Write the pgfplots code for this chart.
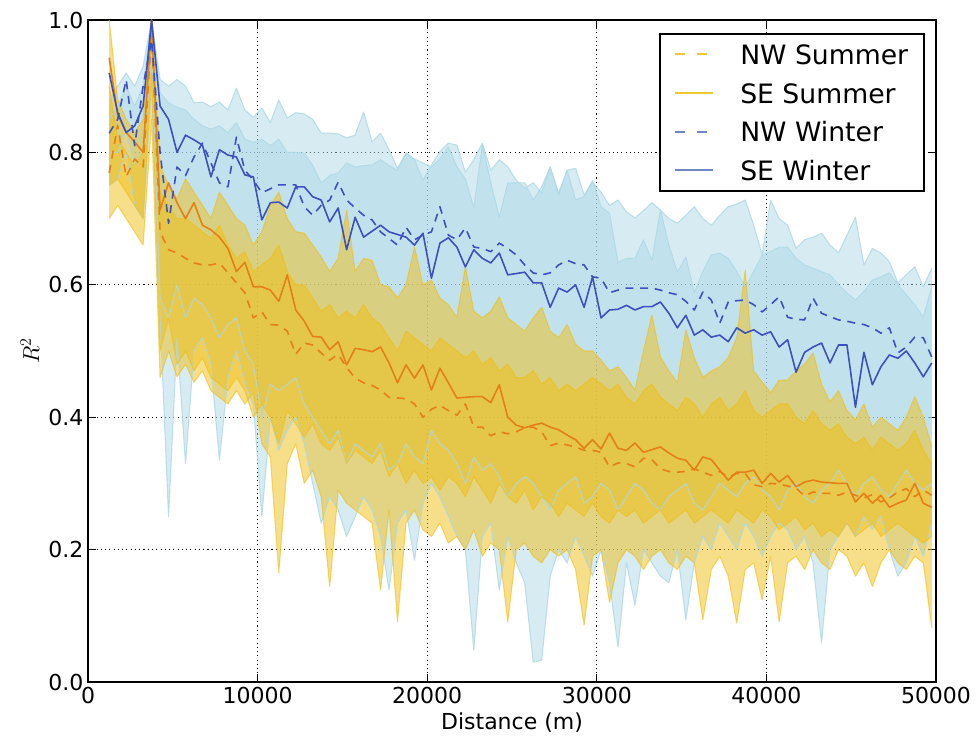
\documentclass[border=0pt]{standalone}
\usepackage{pgfplots}
\pgfplotsset{compat=1.18}
\usepackage{pgfplotstable}
\usepgfplotslibrary{fillbetween}
\usepackage{fontspec}
\setmainfont{DejaVu Sans}
\definecolor{wfill}{RGB}{173,216,230}
\definecolor{sfill}{RGB}{240,190,20}
\definecolor{wline}{RGB}{60,80,190}
\definecolor{sline}{RGB}{228,128,22}
\definecolor{wleg}{RGB}{110,135,195}
\definecolor{sleg}{RGB}{240,200,50}

\pgfplotstableread{
x nws ses nww sew wAhi wAlo wBhi wBlo sAhi sAlo sBhi sBlo
1250 .769 .943 .829 .920 .880 .750 .850 .800 1.000 .700 .900 .750
1750 .841 .857 .850 .860 .900 .760 .870 .800 .880 .720 .820 .760
2250 .763 .830 .910 .830 .920 .800 .900 .830 .850 .700 .800 .740
2750 .790 .816 .810 .840 .900 .720 .870 .780 .830 .680 .780 .720
3250 .778 .800 .900 .870 .930 .700 .900 .800 .850 .660 .800 .700
3750 .980 1.000 .970 1.000 1.000 .900 1.000 .950 1.000 .850 .980 .920
4250 .680 .713 .800 .870 .910 .550 .890 .580 .780 .460 .740 .500
4750 .653 .754 .693 .850 .900 .250 .875 .550 .750 .500 .720 .550
5250 .648 .724 .778 .800 .910 .520 .868 .600 .730 .461 .700 .480
5750 .640 .700 .765 .826 .900 .330 .864 .550 .760 .480 .700 .500
6250 .633 .724 .793 .819 .875 .500 .850 .580 .740 .453 .690 .470
6750 .630 .690 .814 .811 .876 .520 .840 .570 .720 .470 .680 .490
7250 .630 .683 .784 .763 .869 .480 .835 .550 .700 .440 .670 .460
7750 .633 .672 .754 .804 .876 .335 .840 .520 .740 .430 .690 .450
8250 .618 .655 .748 .796 .864 .460 .830 .540 .720 .420 .660 .440
8750 .603 .620 .823 .793 .897 .500 .845 .550 .700 .440 .640 .460
9250 .588 .634 .773 .766 .864 .450 .820 .500 .690 .420 .650 .440
9750 .550 .597 .758 .763 .853 .420 .815 .480 .660 .437 .620 .400
10250 .559 .597 .739 .698 .867 .250 .820 .400 .680 .360 .630 .420
10750 .540 .592 .745 .724 .845 .400 .810 .450 .720 .340 .640 .400
11250 .539 .575 .751 .725 .879 .350 .820 .440 .740 .165 .660 .360
11750 .530 .615 .751 .716 .852 .380 .800 .450 .700 .330 .620 .410
12250 .495 .562 .751 .748 .860 .400 .800 .460 .680 .360 .600 .390
12750 .512 .545 .718 .748 .858 .360 .799 .420 .678 .300 .600 .370
13250 .509 .522 .705 .733 .850 .300 .780 .400 .660 .320 .580 .390
13750 .497 .521 .720 .728 .829 .240 .754 .380 .642 .280 .560 .360
14250 .486 .502 .728 .695 .829 .280 .765 .360 .620 .144 .570 .350
14750 .495 .514 .755 .716 .828 .260 .769 .380 .640 .290 .550 .370
15250 .475 .479 .728 .653 .822 .220 .784 .330 .713 .270 .560 .330
15750 .459 .504 .716 .702 .826 .250 .778 .360 .620 .260 .550 .350
16250 .452 .502 .705 .672 .861 .280 .780 .350 .640 .250 .570 .340
16750 .448 .499 .698 .681 .816 .260 .781 .340 .637 .240 .550 .330
17250 .441 .506 .680 .690 .829 .220 .789 .360 .600 .139 .540 .350
17750 .430 .482 .670 .680 .804 .139 .780 .320 .597 .260 .520 .310
18250 .429 .452 .660 .676 .776 .240 .773 .330 .580 .091 .500 .330
18750 .428 .479 .687 .672 .799 .260 .799 .360 .600 .240 .530 .300
19250 .420 .459 .668 .660 .789 .184 .790 .340 .657 .260 .520 .320
19750 .400 .479 .675 .678 .758 .270 .784 .330 .600 .230 .510 .300
20250 .412 .441 .680 .610 .781 .300 .778 .380 .607 .220 .500 .310
20750 .418 .474 .718 .663 .801 .280 .790 .360 .580 .240 .520 .290
21250 .410 .452 .675 .671 .814 .250 .808 .350 .570 .210 .510 .310
21750 .403 .429 .668 .657 .811 .220 .778 .330 .551 .220 .500 .300
22250 .420 .430 .686 .627 .770 .200 .760 .300 .627 .200 .490 .280
22750 .385 .431 .657 .653 .789 .048 .716 .340 .560 .230 .500 .310
23250 .385 .431 .655 .640 .814 .220 .811 .320 .550 .190 .480 .290
23750 .372 .422 .650 .633 .773 .240 .754 .330 .560 .210 .490 .270
24250 .378 .449 .663 .648 .789 .139 .702 .310 .582 .200 .470 .300
24750 .375 .400 .655 .615 .778 .220 .754 .280 .550 .091 .480 .280
25250 .378 .388 .645 .617 .758 .180 .754 .300 .540 .200 .460 .270
25750 .384 .384 .630 .619 .746 .150 .754 .310 .530 .210 .460 .290
26250 .385 .388 .618 .603 .754 .030 .728 .300 .550 .190 .470 .260
26750 .378 .391 .615 .603 .739 .033 .748 .280 .566 .180 .450 .280
27250 .357 .385 .618 .566 .778 .160 .778 .260 .530 .200 .460 .270
27750 .361 .381 .630 .595 .739 .200 .736 .290 .520 .190 .440 .250
28250 .358 .373 .637 .589 .773 .180 .773 .300 .540 .200 .450 .270
28750 .355 .366 .632 .600 .776 .220 .728 .310 .510 .170 .440 .260
29250 .350 .353 .630 .566 .736 .190 .733 .270 .500 .086 .450 .250
29750 .350 .366 .612 .612 .754 .160 .758 .280 .500 .190 .460 .270
30250 .347 .352 .610 .550 .740 .200 .718 .300 .486 .200 .450 .250
30750 .325 .376 .588 .562 .720 .150 .708 .290 .470 .120 .440 .240
31250 .331 .353 .592 .563 .728 .053 .634 .260 .476 .180 .450 .260
31750 .330 .350 .595 .569 .710 .180 .640 .280 .460 .200 .430 .250
32250 .325 .361 .595 .562 .701 .116 .640 .300 .441 .190 .420 .260
32750 .338 .347 .595 .567 .712 .200 .668 .290 .500 .170 .440 .240
33250 .336 .351 .595 .567 .724 .180 .637 .270 .554 .190 .450 .250
33750 .322 .355 .592 .574 .713 .160 .713 .260 .491 .200 .430 .260
34250 .318 .346 .588 .557 .700 .150 .660 .280 .470 .180 .420 .240
34750 .317 .338 .585 .535 .693 .200 .619 .290 .452 .170 .410 .250
35250 .318 .335 .575 .554 .705 .094 .642 .300 .532 .190 .430 .260
35750 .322 .320 .562 .524 .718 .180 .588 .270 .490 .180 .420 .240
36250 .317 .340 .589 .532 .700 .220 .620 .260 .460 .094 .400 .250
36750 .312 .336 .577 .521 .690 .200 .645 .280 .470 .170 .420 .260
37250 .318 .320 .542 .524 .705 .240 .648 .300 .476 .190 .430 .250
37750 .310 .305 .574 .514 .718 .220 .640 .290 .490 .160 .410 .240
38250 .315 .317 .576 .535 .722 .200 .620 .280 .520 .089 .420 .260
38750 .315 .317 .577 .527 .728 .240 .597 .300 .622 .170 .440 .250
39250 .298 .320 .570 .532 .690 .220 .620 .310 .470 .180 .410 .240
39750 .295 .300 .559 .524 .645 .190 .645 .290 .453 .124 .400 .260
40250 .300 .315 .570 .529 .728 .220 .650 .280 .437 .190 .410 .250
40750 .299 .302 .582 .506 .700 .240 .657 .260 .456 .091 .420 .230
41250 .296 .312 .551 .517 .690 .230 .657 .290 .456 .180 .420 .240
41750 .293 .295 .548 .468 .655 .200 .640 .300 .470 .190 .400 .250
42250 .281 .302 .547 .498 .668 .220 .630 .280 .480 .170 .390 .230
42750 .287 .305 .580 .506 .672 .180 .625 .270 .497 .200 .410 .240
43250 .285 .302 .557 .512 .678 .059 .620 .290 .450 .180 .390 .220
43750 .285 .301 .552 .482 .660 .200 .615 .300 .423 .170 .380 .230
44250 .282 .300 .547 .509 .648 .220 .600 .320 .440 .200 .390 .220
44750 .287 .300 .545 .509 .675 .240 .588 .300 .410 .190 .370 .240
45250 .282 .272 .542 .415 .702 .220 .577 .280 .396 .160 .360 .220
45750 .278 .285 .540 .498 .630 .250 .590 .300 .420 .180 .370 .230
46250 .283 .270 .535 .449 .655 .230 .607 .310 .385 .144 .350 .240
46750 .272 .282 .527 .476 .648 .250 .612 .290 .400 .180 .370 .220
47250 .278 .264 .535 .494 .635 .200 .618 .280 .390 .200 .360 .230
47750 .287 .270 .497 .489 .603 .160 .600 .300 .380 .180 .350 .240
48250 .292 .275 .506 .500 .615 .180 .585 .320 .400 .170 .360 .230
48750 .280 .300 .521 .482 .627 .220 .570 .300 .431 .190 .380 .220
49250 .290 .270 .520 .461 .597 .190 .551 .290 .400 .180 .350 .210
49750 .282 .264 .491 .482 .625 .240 .597 .300 .355 .082 .330 .220
}\data

\begin{document}
\begin{tikzpicture}
\begin{axis}[
  width=636pt, height=496.5pt, scale only axis,
  xmin=0, xmax=50000, ymin=0, ymax=1,
  xtick={0,10000,20000,30000,40000,50000},
  ytick={0,0.2,0.4,0.6,0.8,1},
  scaled x ticks=false,
  xticklabel style={/pgf/number format/.cd, fixed, 1000 sep={}},
  yticklabel style={/pgf/number format/.cd, fixed, fixed zerofill, precision=1},
  /pgf/number format/assume math mode=true,
  tick label style={font=\fontsize{16.5}{19}\selectfont},
  label style={font=\fontsize{16.5}{19}\selectfont},
  xlabel={Distance (m)}, ylabel={$R^2$},
  grid=major,
  major grid style={black, line width=0.6pt, dash pattern=on 0.8pt off 2.4pt},
  axis line style={black, line width=1pt},
  tick style={black, line width=0.75pt}, major tick length=6pt,
  tick align=inside,
  legend cell align=left,
  legend image code/.code={\draw[#1, line width=1.5pt] (0pt,0pt) -- (29pt,0pt);},
  legend style={at={(rel axis cs:1,1)}, anchor=north east, xshift=-8.25pt, yshift=-9.75pt,
    draw=black, line width=1.2pt, font=\fontsize{20}{24}\selectfont,
    inner xsep=10pt, inner ysep=4pt, row sep=6pt, column sep=17.5pt,
    nodes={inner sep=2pt, text height=17pt, text depth=2pt}},
]
\addlegendimage{sleg, dash pattern=on 8pt off 8.5pt}
\addlegendentry{NW Summer}
\addlegendimage{sleg}
\addlegendentry{SE Summer}
\addlegendimage{wleg, dash pattern=on 8pt off 8.5pt}
\addlegendentry{NW Winter}
\addlegendimage{wleg}
\addlegendentry{SE Winter}

% winter bands
\addplot[name path=wAhi, draw=wfill, draw opacity=0.8, line width=0.8pt, line join=round, forget plot] table[x=x,y=wAhi]{\data};
\addplot[name path=wAlo, draw=wfill, draw opacity=0.8, line width=0.8pt, line join=round, forget plot] table[x=x,y=wAlo]{\data};
\addplot[fill=wfill, fill opacity=0.5, draw=none, forget plot] fill between[of=wAhi and wAlo];
\addplot[name path=wBhi, draw=wfill, draw opacity=0.8, line width=0.8pt, line join=round, forget plot] table[x=x,y=wBhi]{\data};
\addplot[name path=wBlo, draw=wfill, draw opacity=0.8, line width=0.8pt, line join=round, forget plot] table[x=x,y=wBlo]{\data};
\addplot[fill=wfill, fill opacity=0.5, draw=none, forget plot] fill between[of=wBhi and wBlo];
% summer bands
\addplot[name path=sAhi, draw=sfill, draw opacity=0.6, line width=0.8pt, line join=round, forget plot] table[x=x,y=sAhi]{\data};
\addplot[name path=sAlo, draw=sfill, draw opacity=0.6, line width=0.8pt, line join=round, forget plot] table[x=x,y=sAlo]{\data};
\addplot[fill=sfill, fill opacity=0.5, draw=none, forget plot] fill between[of=sAhi and sAlo];
\addplot[name path=sBhi, draw=sfill, draw opacity=0.6, line width=0.8pt, line join=round, forget plot] table[x=x,y=sBhi]{\data};
\addplot[name path=sBlo, draw=sfill, draw opacity=0.6, line width=0.8pt, line join=round, forget plot] table[x=x,y=sBlo]{\data};
\addplot[fill=sfill, fill opacity=0.5, draw=none, forget plot] fill between[of=sBhi and sBlo];
% lines
\addplot[sline, line width=1.2pt, line join=round, dash pattern=on 6pt off 5pt, forget plot] table[x=x,y=nws]{\data};
\addplot[sline, line width=1.2pt, line join=round, forget plot] table[x=x,y=ses]{\data};
\addplot[wline, line width=1.2pt, line join=round, dash pattern=on 6pt off 5pt, forget plot] table[x=x,y=nww]{\data};
\addplot[wline, line width=1.2pt, line join=round, forget plot] table[x=x,y=sew]{\data};
\end{axis}
\pgfresetboundingbox
\useasboundingbox (-66pt,-43.5pt) rectangle (666.75pt,511.5pt);
\end{tikzpicture}
\end{document}
